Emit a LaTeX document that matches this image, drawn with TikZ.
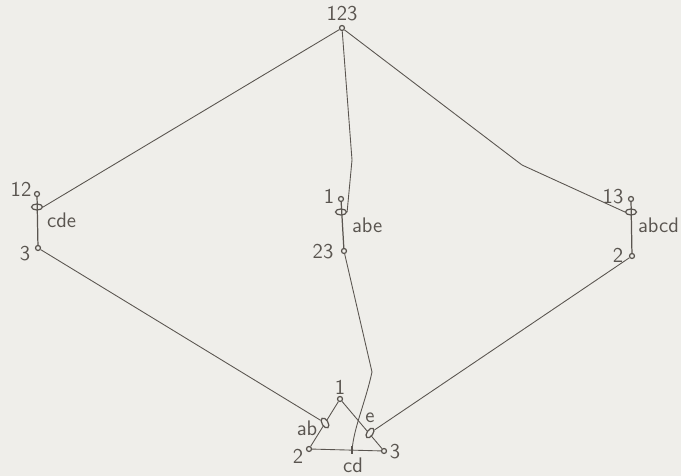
\documentclass[tikz,border=0pt]{standalone}
\usetikzlibrary{shapes.geometric}
\definecolor{paper}{HTML}{EFEEEA}
\definecolor{ink}{HTML}{5A5550}
\begin{document}
\begin{tikzpicture}[x=0.02cm,y=-0.02cm,
  dot/.style={circle,draw=ink,line width=0.7pt,fill=paper,inner sep=0pt,minimum size=0.1cm},
  oval/.style={ellipse,draw=ink,line width=0.7pt,inner sep=0pt,minimum width=0.22cm,minimum height=0.12cm},
  tick/.style={draw=ink,line width=0.7pt,inner sep=0pt,minimum width=0.02cm,minimum height=0.12cm},
  wire/.style={draw=ink,line width=0.5pt},
  lab/.style={text=ink,font=\sffamily\fontsize{12}{14}\selectfont,inner sep=1pt}]
\fill[paper] (0,0) rectangle (681,476);
\useasboundingbox (0,0) rectangle (681,476);
% top
\node[dot] (t) at (342,28) {};
\node[lab] (tl) at (342,14) {123};
% left
\node[dot] (l1) at (37,194) {};
\node[dot] (l3) at (38,248) {};
\node[oval] (lm) at (37,207) {};
\node[lab] (l1l) at (21,189) {12};
\node[lab] (l3l) at (25,254) {3};
\node[lab,anchor=west] (lml) at (45,220) {cde};
% middle
\node[dot] (m1) at (341,199) {};
\node[dot] (m3) at (344,251) {};
\node[oval] (mm) at (341,212) {};
\node[lab] (m1l) at (329,196) {1};
\node[lab] (m3l) at (323,252) {23};
\node[lab,anchor=west] (mml) at (350,225) {abe};
% right
\node[dot] (r1) at (631,199) {};
\node[dot] (r3) at (632,256) {};
\node[oval] (rm) at (631,212) {};
\node[lab] (r1l) at (613,197) {13};
\node[lab] (r3l) at (618,255) {2};
\node[lab,anchor=west] (rml) at (636,225) {abcd};
% triangle
\node[dot] (a1) at (340,399) {};
\node[dot] (a2) at (309,449) {};
\node[dot] (a3) at (384,451) {};
\node[lab] (a1l) at (340,387) {1};
\node[lab] (a2l) at (298,456) {2};
\node[lab] (a3l) at (395,452) {3};
\draw[wire] (a1) -- (a2) -- (a3) -- (a1);
\node[oval,rotate=-58,fill=paper] (ab) at (325,423) {};
\node[oval,rotate=55,fill=paper] (e) at (370,433) {};
\node[tick] (cd) at (352,450) {};
\node[lab] (abl) at (307,428) {ab};
\node[lab] (el) at (370,418) {e};
\node[lab] (cdl) at (353,465) {cd};
% vertical bars
\draw[wire,line width=0.7pt] (l1) -- (l3);
\draw[wire,line width=0.7pt] (m1) -- (m3);
\draw[wire,line width=0.7pt] (r1) -- (r3);
% connectors from top
\draw[wire] (t) -- (lm.east);
\draw[wire] (t) -- (352,160) -- (mm.east);
\draw[wire] (t) -- (522,165) -- (rm.west);
% connectors to triangle
\draw[wire] (l3) -- (ab);
\draw[wire] (r3) -- (e);
\draw[wire] (m3) -- (372,372) .. controls (366,400) and (355,425) .. (cd);
\end{tikzpicture}
\end{document}
